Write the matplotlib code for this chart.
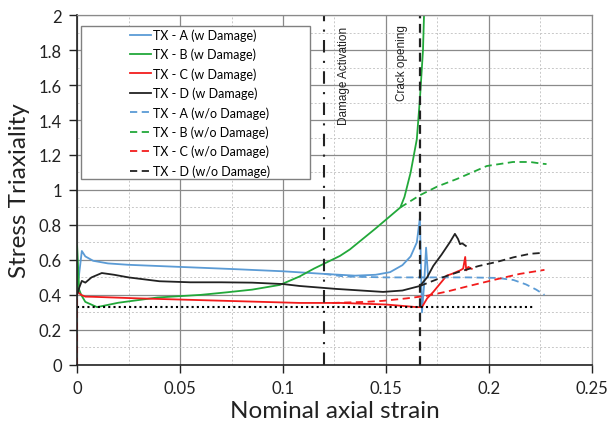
import numpy as np
import matplotlib
matplotlib.use("Agg")
import matplotlib.pyplot as plt
from matplotlib.patches import Rectangle
from matplotlib.ticker import MultipleLocator

plt.rcParams['font.family'] = ['Lato', 'DejaVu Sans']

# ---- data ----
# TX-A, with damage
a_w_x = [0, 0.0008, 0.0023, 0.004, 0.0078, 0.015, 0.025, 0.05, 0.075, 0.1, 0.12, 0.135,
         0.145, 0.152, 0.158, 0.162, 0.1650, 0.1665, 0.1675, 0.1685, 0.1695, 0.1705]
a_w_y = [0.46, 0.50, 0.651, 0.62, 0.595, 0.58, 0.572, 0.56, 0.548, 0.535, 0.52, 0.51,
         0.515, 0.53, 0.57, 0.62, 0.70, 0.84, 0.30, 0.45, 0.67, 0.50]
# TX-B, with damage
b_w_x = [0, 0, 0.001, 0.002, 0.004, 0.0097, 0.02, 0.039, 0.06, 0.073, 0.085, 0.0985,
         0.108, 0.115, 0.1277, 0.1325, 0.145, 0.157, 0.159, 0.162, 0.165, 0.1665, 0.168, 0.1685]
b_w_y = [0.40, 0.68, 0.43, 0.40, 0.36, 0.33, 0.355, 0.385, 0.40, 0.415, 0.43, 0.457,
         0.505, 0.55, 0.623, 0.66, 0.78, 0.90, 0.96, 1.10, 1.29, 1.52, 1.80, 2.0]
# TX-C, with damage
c_w_x = [0, 0.002, 0.004, 0.0078, 0.03, 0.06, 0.09, 0.108, 0.128, 0.15, 0.165, 0.1675,
         0.170, 0.173, 0.176, 0.1795, 0.182, 0.184, 0.186, 0.1875, 0.1885, 0.1890, 0.190, 0.1917]
c_w_y = [0.42, 0.40, 0.39, 0.389, 0.38, 0.37, 0.36, 0.354, 0.354, 0.345, 0.33, 0.33,
         0.38, 0.417, 0.46, 0.51, 0.52, 0.53, 0.54, 0.55, 0.617, 0.54, 0.56, 0.549]
# TX-D, with damage
d_w_x = [0, 0.001, 0.0023, 0.004, 0.007, 0.012, 0.018, 0.025, 0.04, 0.055, 0.07, 0.085,
         0.1, 0.108, 0.126, 0.1486, 0.158, 0.1665, 0.170, 0.173, 0.177, 0.181, 0.1835,
         0.185, 0.186, 0.187, 0.1888]
d_w_y = [0.40, 0.44, 0.48, 0.47, 0.50, 0.525, 0.515, 0.50, 0.478, 0.472, 0.472, 0.47,
         0.462, 0.451, 0.434, 0.417, 0.425, 0.451, 0.50, 0.566, 0.63, 0.70, 0.749,
         0.72, 0.69, 0.695, 0.68]

# without damage (drawn from where they leave the damaged curves)
a_wo_x = [0.12, 0.13, 0.15, 0.17, 0.19, 0.204, 0.212, 0.218, 0.223, 0.227]
a_wo_y = [0.52, 0.505, 0.50, 0.50, 0.50, 0.497, 0.485, 0.46, 0.43, 0.40]
b_wo_x = [0.157, 0.1665, 0.175, 0.1845, 0.199, 0.2117, 0.22, 0.226, 0.228]
b_wo_y = [0.90, 0.97, 1.02, 1.063, 1.137, 1.16, 1.16, 1.15, 1.148]
c_wo_x = [0, 0, np.nan, 0.124, 0.14, 0.1486, 0.16, 0.17, 0.18, 0.19, 0.204, 0.215, 0.227]
c_wo_y = [0, 0.40, np.nan, 0.354, 0.36, 0.366, 0.38, 0.395, 0.42, 0.45, 0.49, 0.52, 0.543]
d_wo_x = [0.1665, 0.175, 0.185, 0.195, 0.204, 0.212, 0.22, 0.2257]
d_wo_y = [0.451, 0.49, 0.53, 0.565, 0.589, 0.615, 0.635, 0.64]

dmg_act = 0.12
crack_open = 0.1665
triax_ref = 1 / 3
triax_ref_end = 0.222

blue, green, red, black = '#5B9BD5', '#22A83A', '#F21C1C', '#222222'

fig = plt.figure(figsize=(6.07, 4.35), dpi=100)
ax = fig.add_axes([0.127, 0.159, 0.848, 0.804])

ax.plot(a_w_x, a_w_y, color=blue, lw=1.3, label='TX - A (w Damage)')
ax.plot(b_w_x, b_w_y, color=green, lw=1.3, label='TX - B (w Damage)')
ax.plot(c_w_x, c_w_y, color=red, lw=1.3, label='TX - C (w Damage)')
ax.plot(d_w_x, d_w_y, color=black, lw=1.3, label='TX - D (w Damage)')
ax.plot(a_wo_x, a_wo_y, color=blue, lw=1.3, ls=(0, (4, 2.5)), label='TX - A (w/o Damage)')
ax.plot(b_wo_x, b_wo_y, color=green, lw=1.3, ls=(0, (4, 2.5)), label='TX - B (w/o Damage)')
ax.plot(c_wo_x, c_wo_y, color=red, lw=1.3, ls=(0, (4, 2.5)), label='TX - C (w/o Damage)')
ax.plot(d_wo_x, d_wo_y, color=black, lw=1.3, ls=(0, (4, 2.5)), label='TX - D (w/o Damage)')

ax.axvline(dmg_act, color=black, lw=1.5, ls=(0, (6, 4, 1, 4)))
ax.axvline(crack_open, color=black, lw=1.6, ls=(0, (4, 2.5)))
ax.plot([0, triax_ref_end], [triax_ref, triax_ref], color='black', lw=1.5, ls=(0, (1, 1.5)))

ax.text(0.1296, 1.66, 'Damage Activation', rotation=90, ha='center', va='center',
        fontsize=8.5, family='Liberation Sans', color='#222222')
ax.text(0.158, 1.73, 'Crack opening', rotation=90, ha='center', va='center',
        fontsize=8.5, family='Liberation Sans', color='#222222')

ax.set_xlim(0, 0.25)
ax.set_ylim(0, 2)
ax.xaxis.set_minor_locator(MultipleLocator(0.025))
ax.yaxis.set_minor_locator(MultipleLocator(0.1))
ax.set_xticks([0, 0.05, 0.1, 0.15, 0.2, 0.25], ['0', '0.05', '0.1', '0.15', '0.2', '0.25'])
ax.set_yticks(np.arange(0, 2.01, 0.2), ['0', '0.2', '0.4', '0.6', '0.8', '1', '1.2', '1.4',
                                         '1.6', '1.8', '2'])
ax.grid(which='major', color='#8a8a8a', lw=0.9)
ax.grid(which='minor', color='#c8c8c8', lw=0.7, ls=(0, (2, 2)))
ax.set_axisbelow(True)
ax.tick_params(which='major', direction='out', length=6, width=1, labelsize=12,
               colors='#222222', pad=5)
ax.tick_params(which='minor', length=0)
for s in ['left', 'bottom']:
    ax.spines[s].set_color('#222222')
    ax.spines[s].set_linewidth(1.2)
for s in ['top', 'right']:
    ax.spines[s].set_color('#8a8a8a')
    ax.spines[s].set_linewidth(0.9)

ax.set_xlabel('Nominal axial strain', fontsize=17.5, color='#222222', labelpad=3)
ax.set_ylabel('Stress Triaxiality', fontsize=17.5, color='#222222', labelpad=6)

# legend box drawn separately so the entries sit centered inside it
ax.add_patch(Rectangle((0.0078, 0.531), 0.444, 0.4376, transform=ax.transAxes,
                       facecolor='white', edgecolor='#808080', lw=1.0, zorder=4))
leg = ax.legend(loc='upper left', bbox_to_anchor=(0.103, 0.962), frameon=False,
                fontsize=9, borderpad=0, borderaxespad=0, handlelength=1.7,
                handletextpad=0.15, labelspacing=0.55)
leg.set_zorder(5)

fig.savefig('out.png', dpi=100)
